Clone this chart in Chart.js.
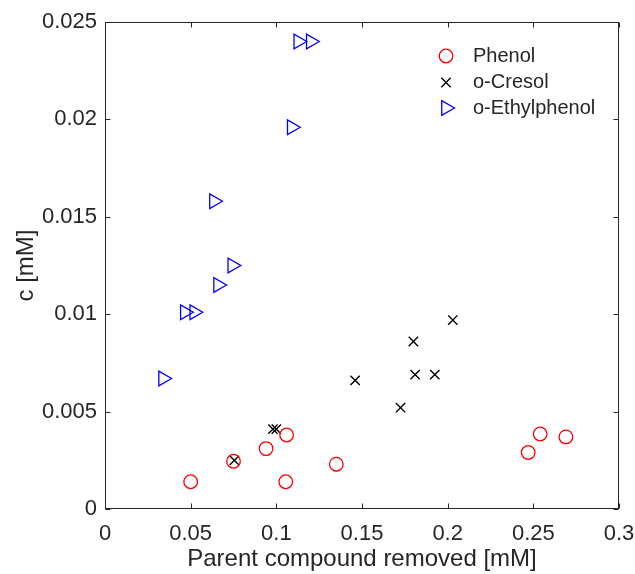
<!DOCTYPE html>
<html>
<head>
<meta charset="utf-8">
<script src="https://cdn.jsdelivr.net/npm/chart.js@4.4.1/dist/chart.umd.min.js"></script>
<style>
    html, body { margin: 0; padding: 0; background: #fff; }
    #chart { display: block; }
</style>
</head>
<body>
<canvas id="chart" width="635" height="574"></canvas>
<script>
// ===== Data =====
const phenolX = [0.050, 0.075, 0.094, 0.106, 0.1055, 0.135, 0.247, 0.254, 0.269];
const phenolY = [0.0014, 0.00245, 0.0031, 0.0038, 0.0014, 0.0023, 0.0029, 0.00385, 0.0037];

const cresolX = [0.0755, 0.098, 0.100, 0.146, 0.1725, 0.180, 0.181, 0.1925, 0.203];
const cresolY = [0.0025, 0.0041, 0.0041, 0.0066, 0.0052, 0.0086, 0.0069, 0.0069, 0.0097];

const ethylX = [0.0339, 0.0466, 0.0521, 0.0636, 0.0660, 0.0743, 0.1090, 0.1128, 0.1201];
const ethylY = [0.0067, 0.0101, 0.0101, 0.0158, 0.0115, 0.0125, 0.0196, 0.0240, 0.0240];

const xTicks = [0, 0.05, 0.1, 0.15, 0.2, 0.25, 0.3];
const yTicks = [0, 0.005, 0.01, 0.015, 0.02, 0.025];

const seriesNames = ['Phenol', 'o-Cresol', 'o-Ethylphenol'];

// ===== Style =====
const FONT = "'Liberation Sans', Arial, Helvetica, sans-serif";
const AXIS_COLOR = '#262626';
const TICK_LEN = 5;

const toPoints = (xs, ys) => xs.map((v, i) => ({ x: v, y: ys[i] }));
const fmt = v => String(+v.toFixed(4));

// box around the plot with inward ticks on all four sides
const framePlugin = {
    id: 'frame',
    beforeDatasetsDraw(chart) {
        const { ctx, chartArea: a, scales: { x, y } } = chart;
        const L = Math.round(a.left) + 0.5, R = Math.round(a.right) - 0.5;
        const T = Math.round(a.top) + 0.5, B = Math.round(a.bottom) - 0.5;
        ctx.save();
        ctx.strokeStyle = AXIS_COLOR;
        ctx.lineWidth = 1;
        ctx.strokeRect(L, T, R - L, B - T);
        ctx.beginPath();
        xTicks.forEach(v => {
            const px = Math.round(x.getPixelForValue(v)) + 0.5;
            ctx.moveTo(px, B); ctx.lineTo(px, B - TICK_LEN);
            ctx.moveTo(px, T); ctx.lineTo(px, T + TICK_LEN);
        });
        yTicks.forEach(v => {
            const py = Math.round(y.getPixelForValue(v)) + 0.5;
            ctx.moveTo(L, py); ctx.lineTo(L + TICK_LEN, py);
            ctx.moveTo(R, py); ctx.lineTo(R - TICK_LEN, py);
        });
        ctx.stroke();
        ctx.restore();
    }
};

// legend drawn inside the plot, top right
const legendPlugin = {
    id: 'insideLegend',
    afterDraw(chart) {
        const { ctx, chartArea: a } = chart;
        const markerX = a.right - 173;
        const textX = a.right - 146;
        const rowY = [a.top + 34, a.top + 60.5, a.top + 86];
        ctx.save();
        ctx.font = '20px ' + FONT;
        ctx.textBaseline = 'middle';
        ctx.textAlign = 'left';
        chart.data.datasets.forEach((ds, i) => {
            ctx.strokeStyle = ds.borderColor;
            ctx.fillStyle = 'rgba(0,0,0,0)';
            ctx.lineWidth = ds.borderWidth;
            Chart.helpers.drawPoint(ctx, {
                pointStyle: ds.pointStyle,
                radius: ds.pointRadius,
                rotation: ds.pointRotation || 0,
                borderWidth: ds.borderWidth
            }, markerX, rowY[i]);
            ctx.fillStyle = AXIS_COLOR;
            ctx.fillText(ds.label, textX, rowY[i]);
        });
        ctx.restore();
    }
};

const ctx = document.getElementById('chart').getContext('2d');
new Chart(ctx, {
    type: 'scatter',
    data: {
        datasets: [
            {
                label: seriesNames[0],
                data: toPoints(phenolX, phenolY),
                pointStyle: 'circle',
                pointRadius: 6.8,
                borderColor: '#ff0000',
                backgroundColor: 'rgba(0,0,0,0)',
                borderWidth: 1.3
            },
            {
                label: seriesNames[1],
                data: toPoints(cresolX, cresolY),
                pointStyle: 'crossRot',
                pointRadius: 6.6,
                borderColor: '#000000',
                backgroundColor: 'rgba(0,0,0,0)',
                borderWidth: 1.4
            },
            {
                label: seriesNames[2],
                data: toPoints(ethylX, ethylY),
                pointStyle: 'triangle',
                pointRotation: 90,
                pointRadius: 8.5,
                borderColor: '#0000ff',
                backgroundColor: 'rgba(0,0,0,0)',
                borderWidth: 1.3
            }
        ]
    },
    options: {
        responsive: false,
        animation: false,
        devicePixelRatio: 1,
        layout: { padding: { top: 22, right: 16, left: 0, bottom: 0 } },
        plugins: {
            legend: { display: false },
            tooltip: { enabled: false }
        },
        scales: {
            x: {
                type: 'linear',
                min: 0,
                max: 0.3,
                afterFit: s => { s.height = 65; s.paddingRight = 0; s.paddingLeft = 0; },
                afterBuildTicks: s => { s.ticks = xTicks.map(v => ({ value: v })); },
                grid: { display: false, drawTicks: false },
                border: { display: false },
                ticks: {
                    color: AXIS_COLOR,
                    padding: 12,
                    maxRotation: 0,
                    font: { family: FONT, size: 22 },
                    callback: v => fmt(v)
                },
                title: {
                    display: true,
                    text: 'Parent compound removed [mM]',
                    color: AXIS_COLOR,
                    font: { family: FONT, size: 24 },
                    padding: { top: 0, bottom: 0 }
                }
            },
            y: {
                type: 'linear',
                min: 0,
                max: 0.025,
                afterFit: s => { s.width = 105; s.paddingTop = 0; s.paddingBottom = 0; },
                afterBuildTicks: s => { s.ticks = yTicks.map(v => ({ value: v })); },
                grid: { display: false, drawTicks: false },
                border: { display: false },
                ticks: {
                    color: AXIS_COLOR,
                    padding: 8,
                    font: { family: FONT, size: 22 },
                    callback: v => fmt(v)
                },
                title: {
                    display: true,
                    text: 'c [mM]',
                    color: AXIS_COLOR,
                    font: { family: FONT, size: 24 },
                    padding: { top: 12, bottom: 0 }
                }
            }
        }
    },
    plugins: [framePlugin, legendPlugin]
});
</script>
</body>
</html>
